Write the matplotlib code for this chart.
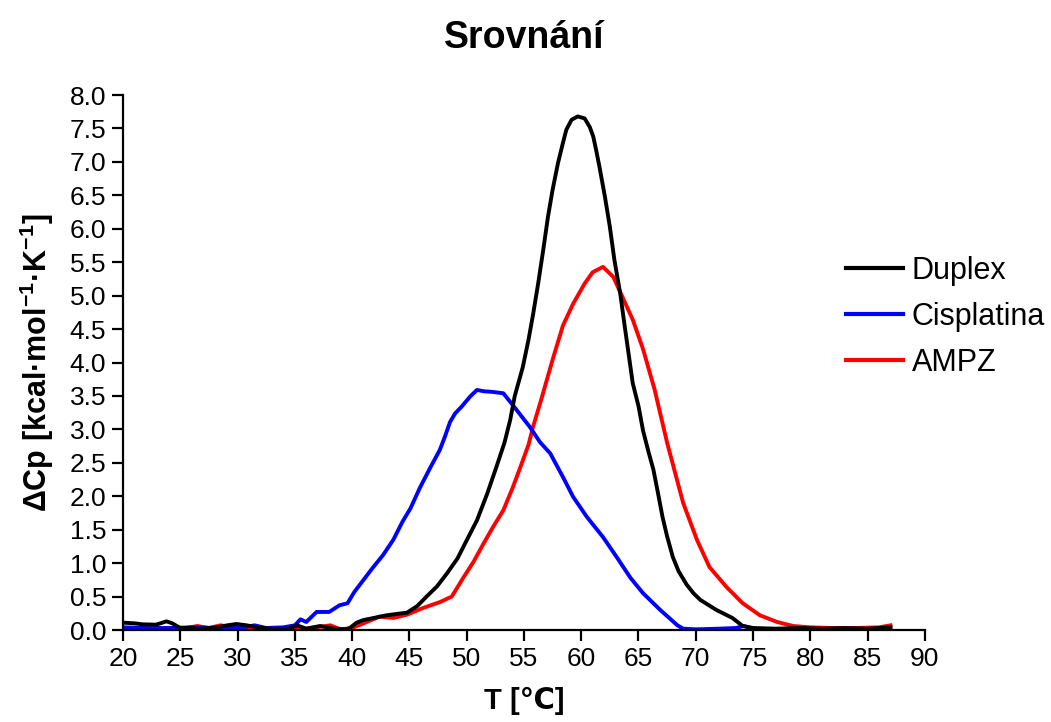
import matplotlib
matplotlib.use("Agg")
import matplotlib.pyplot as plt
import numpy as np

# Duplex (black)
duplex_t = [20.0, 21.0, 21.7, 22.9, 23.8, 24.3, 25.0, 26.0, 26.7, 27.5, 28.2, 29.1, 29.9,
            30.8, 32.0, 33.1, 34.3, 35.2, 36.0, 37.2, 38.4, 39.5, 39.8, 40.4, 41.0, 41.6,
            43.0, 44.8, 45.7, 46.5, 47.4, 48.3, 49.2, 50.0, 50.9, 51.8, 52.6, 53.3, 53.8,
            54.2, 54.9, 55.4, 55.8, 56.25, 56.7, 57.1, 57.5, 57.97, 58.4, 58.7, 59.16, 59.7,
            60.3, 60.75, 61.05, 61.3, 61.6, 62.07, 62.5, 62.9, 63.4, 63.8, 64.5, 65.0, 65.4,
            65.85, 66.3, 66.7, 67.1, 67.5, 68.0, 68.5, 69.2, 69.8, 70.4, 71.8, 73.2, 74.1,
            75.0, 77.0, 79.0, 81.0, 83.0, 85.0, 87.0]
duplex_cp = [0.11, 0.10, 0.085, 0.08, 0.13, 0.10, 0.03, 0.03, 0.02, 0.03, 0.04, 0.07, 0.09,
             0.07, 0.03, 0.02, 0.01, 0.07, 0.02, 0.06, 0.02, 0.01, 0.03, 0.11, 0.15, 0.17,
             0.22, 0.26, 0.36, 0.50, 0.65, 0.85, 1.07, 1.34, 1.64, 2.04, 2.44, 2.80, 3.14,
             3.50, 3.93, 4.34, 4.72, 5.19, 5.70, 6.18, 6.58, 6.98, 7.28, 7.48, 7.63, 7.68,
             7.65, 7.52, 7.38, 7.18, 6.92, 6.48, 6.03, 5.53, 5.04, 4.54, 3.69, 3.35, 2.98,
             2.68, 2.40, 2.05, 1.69, 1.40, 1.09, 0.88, 0.68, 0.55, 0.45, 0.30, 0.18, 0.06,
             0.03, 0.02, 0.03, 0.02, 0.03, 0.02, 0.04]

# Cisplatina (blue)
cis_t = [20.0, 22.0, 24.0, 26.0, 28.0, 30.0, 31.5, 32.5, 34.0, 35.0, 35.5, 36.0, 36.9,
         38.0, 38.9, 39.6, 40.2, 41.0, 41.8, 42.7, 43.6, 44.4, 45.1, 45.9, 46.8, 47.65,
         48.1, 48.55, 49.0, 49.56, 50.3, 50.9, 51.5, 52.3, 53.2, 54.0, 55.5, 56.4, 57.3,
         58.4, 59.3, 60.5, 61.9, 63.1, 64.3, 65.4, 66.9, 68.4, 68.9, 70.0, 72.0, 73.5,
         74.2, 75.0, 76.0]
cis_cp = [0.04, 0.03, 0.03, 0.04, 0.03, 0.03, 0.07, 0.03, 0.04, 0.07, 0.16, 0.12, 0.27,
          0.27, 0.37, 0.40, 0.57, 0.75, 0.93, 1.12, 1.35, 1.62, 1.82, 2.12, 2.42, 2.69,
          2.89, 3.11, 3.24, 3.34, 3.49, 3.59, 3.57, 3.56, 3.54, 3.37, 3.04, 2.81, 2.64,
          2.29, 1.99, 1.69, 1.39, 1.09, 0.78, 0.55, 0.30, 0.07, 0.02, 0.01, 0.02, 0.03,
          0.06, 0.02, 0.01]

# AMPZ (red)
ampz_t = [20.0, 22.0, 24.0, 25.5, 26.5, 27.5, 28.5, 30.0, 32.0, 34.0, 36.0, 38.1, 39.0,
          40.0, 41.0, 42.4, 43.6, 44.8, 46.2, 47.7, 48.7, 49.7, 50.6, 51.4, 52.3, 53.2,
          54.0, 54.7, 55.4, 55.8, 56.5, 57.5, 58.4, 59.3, 60.3, 61.0, 61.9, 62.8, 63.6,
          64.5, 65.4, 66.4, 67.5, 68.9, 70.1, 71.2, 72.7, 74.1, 75.6, 77.1, 78.5, 80.0,
          82.0, 84.0, 86.0, 87.0]
ampz_cp = [0.02, 0.02, 0.03, 0.03, 0.06, 0.03, 0.07, 0.03, 0.02, 0.03, 0.02, 0.07, 0.01,
           0.03, 0.10, 0.20, 0.18, 0.23, 0.33, 0.42, 0.50, 0.78, 1.02, 1.27, 1.54, 1.79,
           2.12, 2.44, 2.77, 3.04, 3.44, 4.04, 4.55, 4.88, 5.18, 5.35, 5.43, 5.28, 4.98,
           4.64, 4.20, 3.60, 2.80, 1.90, 1.35, 0.94, 0.64, 0.40, 0.22, 0.12, 0.06, 0.04,
           0.03, 0.03, 0.04, 0.07]

x_ticks = np.arange(20, 91, 5)
y_ticks = np.arange(0, 8.01, 0.5)

plt.rcParams["font.family"] = ["Liberation Sans", "DejaVu Sans"]
plt.rcParams["mathtext.fontset"] = "custom"
plt.rcParams["mathtext.rm"] = "Liberation Sans:bold"
plt.rcParams["mathtext.default"] = "rm"

fig = plt.figure(figsize=(10.51, 7.22), dpi=100)
ax = fig.add_axes([0.117, 0.1274, 0.763, 0.741])

ax.plot(duplex_t, duplex_cp, color="black", lw=2.8, label="Duplex", zorder=3)
ax.plot(cis_t, cis_cp, color="#0000ff", lw=2.8, label="Cisplatina", zorder=2)
ax.plot(ampz_t, ampz_cp, color="#ff0000", lw=2.8, label="AMPZ", zorder=1)

ax.set_xlim(20, 90)
ax.set_ylim(0, 8.0)
ax.set_xticks(x_ticks)
ax.set_yticks(y_ticks)
ax.set_yticklabels([f"{v:.1f}" for v in y_ticks])
ax.tick_params(direction="out", length=8, width=1.6, labelsize=19, pad=4)
for side in ("top", "right"):
    ax.spines[side].set_visible(False)
for side in ("left", "bottom"):
    ax.spines[side].set_linewidth(1.6)

ax.set_xlabel("T [℃]", fontsize=21, fontweight="bold", labelpad=12)
ax.set_ylabel(r"ΔCp [kcal·mol$^{-1}$·K$^{-1}$]", fontsize=22, fontweight="bold", labelpad=10)
ax.set_title("Srovnání", fontsize=27, fontweight="bold", pad=34)

leg = fig.legend(*ax.get_legend_handles_labels(), loc="upper left",
                 bbox_to_anchor=(846 / 1051, 1 - 256 / 722), frameon=False,
                 fontsize=22, handlelength=1.85, labelspacing=0.52, handletextpad=0.3,
                 borderpad=0, borderaxespad=0)
for line in leg.get_lines():
    line.set_linewidth(3)

fig.savefig("out.png", dpi=100)
